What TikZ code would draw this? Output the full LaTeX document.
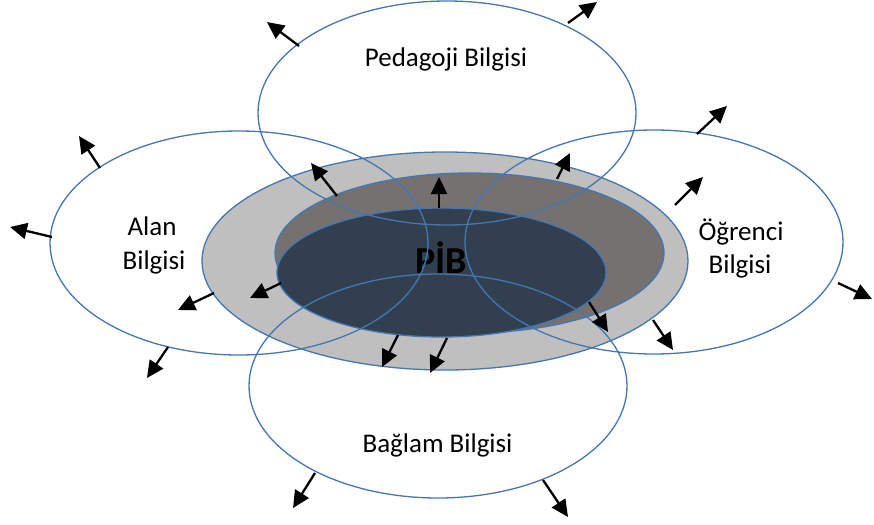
\documentclass[tikz,border=0pt]{standalone}
\usepackage{fontspec}
\setmainfont{Carlito}
\usetikzlibrary{shapes.geometric,arrows.meta}
\definecolor{outl}{HTML}{4676B0}
\definecolor{lgray}{HTML}{BFBFBF}
\definecolor{dgray}{HTML}{767171}
\definecolor{navy}{HTML}{323F4F}
\begin{document}
\begin{tikzpicture}[x=1pt,y=-1pt,
  ring/.style={ellipse,draw=outl,line width=1.3pt,inner sep=0pt},
  bigring/.style={ring,minimum width=378pt,minimum height=224pt},
  lbl/.style={font=\fontsize{27}{33}\selectfont,anchor=base,inner sep=0pt},
  arr/.style={line width=2.3pt,-{Triangle[length=17pt,width=16pt]}}]
\useasboundingbox (0,0) rectangle (874,524);
% central rings
\node[ring,fill=lgray,minimum width=486pt,minimum height=218pt] (outer) at (445,261) {};
\node[ring,fill=dgray,minimum width=389pt,minimum height=160pt] (middle) at (469.5,253) {};
\node[ring,fill=navy,minimum width=329pt,minimum height=129pt] (inner) at (441.5,272.5) {};
\node[font=\bfseries\fontsize{38}{40}\selectfont,anchor=base,inner sep=0pt,text=black] (pib) at (441,273) {PİB};
% outer ellipses
\node[bigring] (ped) at (447,113) {};
\node[bigring] (alan) at (239,243) {};
\node[bigring] (ogr) at (654,242) {};
\node[bigring] (bag) at (438,386) {};
% labels
\node[lbl] (pedt) at (446,67) {Pedagoji Bilgisi};
\node[lbl] (alant1) at (152,235) {Alan};
\node[lbl] (alant2) at (154,269) {Bilgisi};
\node[lbl] (ogrt1) at (741,240) {Öğrenci};
\node[lbl] (ogrt2) at (740,273) {Bilgisi};
\node[lbl] (bagt) at (437.5,452) {Bağlam Bilgisi};
% arrows
\foreach \i/\sx/\sy/\tx/\ty in {
  1/299/46/267/22, 2/568/23/597/2, 3/100/168/79/136, 4/52/237/10/227,
  5/168/347/147/378, 6/214/293/178/310, 7/281/283/250/298, 8/337/196/311/163,
  9/439/208/439/177, 10/398/335/382/367, 11/447/338/430/373, 12/557/179/570/153,
  13/675/205/703/177, 14/589/302/608/332, 15/653/320/673/350, 16/697/134/727/106,
  17/838/283/872/299, 18/315/473/293/508, 19/543/480/568/517}{
  \coordinate (s\i) at (\sx,\sy);
  \coordinate (t\i) at (\tx,\ty);
  \draw[arr] (s\i) -- (t\i);
}
\end{tikzpicture}
\end{document}
